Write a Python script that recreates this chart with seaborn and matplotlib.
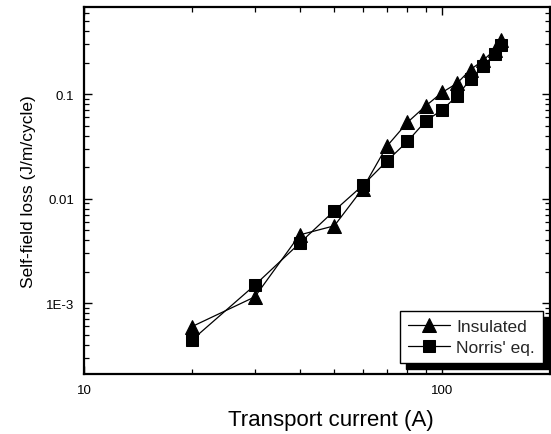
import numpy as np
import pandas as pd
import matplotlib
matplotlib.use("Agg")
import matplotlib.pyplot as plt
import matplotlib.patches as mpatches
from matplotlib.transforms import IdentityTransform
from matplotlib.ticker import LogLocator, FixedLocator, FixedFormatter, NullFormatter
import seaborn as sns

# ---- data ----
current = [20, 30, 40, 50, 60, 70, 80, 90, 100, 110, 120, 130, 140, 146]
insulated = [5.96e-4, 1.15e-3, 4.5e-3, 5.5e-3, 0.0125, 0.0316, 0.0537, 0.0773,
             0.104, 0.127, 0.172, 0.21, 0.265, 0.33]
norris = [4.43e-4, 1.49e-3, 3.75e-3, 7.67e-3, 0.0134, 0.0228, 0.0353, 0.0554,
          0.0708, 0.096, 0.139, 0.186, 0.24, 0.295]
series_names = ["Insulated", "Norris' eq."]
xtick_vals = [10, 100]
xtick_labels = ["10", "100"]
ytick_vals = [1e-3, 1e-2, 1e-1]
ytick_labels = ["1E-3", "0.01", "0.1"]

sns.set_theme(style="white")
plt.rcParams["font.family"] = ["Liberation Sans", "DejaVu Sans"]

fig = plt.figure(figsize=(5.51, 4.35), dpi=100)
ax = fig.add_axes([84 / 551, 1 - 375 / 435, (550 - 84) / 551, (375 - 7.5) / 435])

df = pd.DataFrame({"current": current * 2,
                   "loss": insulated + norris,
                   "series": [series_names[0]] * len(current) + [series_names[1]] * len(current)})

sns.lineplot(data=df[df.series == series_names[0]], x="current", y="loss", ax=ax,
             color="black", marker="^", markersize=10.5, linewidth=0.9,
             markeredgecolor="black", label=series_names[0], estimator=None)
sns.lineplot(data=df[df.series == series_names[1]], x="current", y="loss", ax=ax,
             color="black", marker="s", markersize=9, linewidth=0.9,
             markeredgecolor="black", label=series_names[1], estimator=None)

ax.set_xscale("log")
ax.set_yscale("log")
ax.set_xlim(10, 200)
ax.set_ylim(2.1e-4, 0.69)

ax.xaxis.set_major_locator(FixedLocator(xtick_vals))
ax.xaxis.set_major_formatter(FixedFormatter(xtick_labels))
ax.xaxis.set_minor_locator(LogLocator(base=10, subs=np.arange(2, 10), numticks=20))
ax.xaxis.set_minor_formatter(NullFormatter())
ax.yaxis.set_major_locator(FixedLocator(ytick_vals))
ax.yaxis.set_major_formatter(FixedFormatter(ytick_labels))
ax.yaxis.set_minor_locator(LogLocator(base=10, subs=np.arange(2, 10), numticks=20))
ax.yaxis.set_minor_formatter(NullFormatter())

ax.tick_params(which="both", direction="in", top=True, right=True, bottom=True, left=True,
               colors="black", labelsize=9.5)
ax.tick_params(which="major", length=6, width=1.0, pad=7)
ax.tick_params(which="minor", length=3.5, width=0.9)

for s in ax.spines.values():
    s.set_color("black")
    s.set_linewidth(1.6)
    s.set_visible(True)

ax.set_xlabel("Transport current (A)", fontsize=16, color="black")
ax.set_ylabel("Self-field loss (J/m/cycle)", fontsize=12.5, color="black")
ax.xaxis.set_label_coords(0.53, -0.095)
ax.yaxis.set_label_coords(-0.103, 0.5)

leg = ax.legend(loc="lower right", bbox_to_anchor=(0.985, 0.03), borderaxespad=0,
                frameon=True, fancybox=False, fontsize=12.5, handlelength=2.4,
                handletextpad=0.4, borderpad=0.45, labelspacing=0.35)
leg.get_frame().set_edgecolor("black")
leg.get_frame().set_linewidth(1.0)
leg.get_frame().set_alpha(1)
leg.set_zorder(6)

fig.canvas.draw()
bb = leg.get_window_extent()
shadow = mpatches.Rectangle((bb.x0 + 6, bb.y0 - 6), bb.width, bb.height,
                            transform=IdentityTransform(), facecolor="black",
                            edgecolor="black", zorder=5.5, clip_on=False)
ax.add_artist(shadow)

fig.savefig("out.png", dpi=100, facecolor="white")
